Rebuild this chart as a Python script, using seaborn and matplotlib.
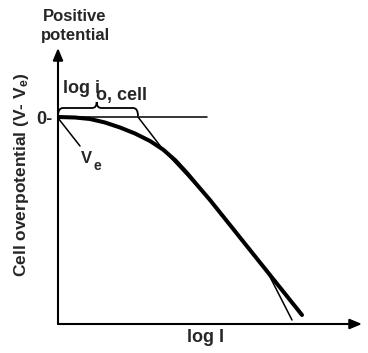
import matplotlib
matplotlib.use("Agg")
import matplotlib.pyplot as plt
from matplotlib.path import Path
from matplotlib.patches import PathPatch
import seaborn as sns
import pandas as pd

# Cell polarisation curve (log current vs overpotential), arbitrary units
log_current = [0, 1.7, 3.2, 4.7, 6.2, 7.7, 9.2, 10.5, 11.7, 12.9, 14.0, 15.2, 19.2, 24.4]
overpotential = [0, -0.05, -0.2, -0.55, -1.05, -1.65, -2.4, -3.25, -4.3, -5.6,
                 -6.9, -8.3, -13.3, -19.8]

# Tafel asymptote, starting where it crosses the zero-overpotential line
tafel_log_current = [8.0, 10.5, 15.2, 19.2, 21.0, 23.4]
tafel_overpotential = [0, -3.25, -8.3, -13.3, -15.6, -20.3]

# Zero-overpotential reference line
zero_line_x = [0, 14.9]
zero_line_y = [0, 0]

x_label = "log I"
y_label = "Cell overpotential (V- V$_{e}$)"
y_ticks = [0]
y_tick_labels = ["0-"]

sns.set_theme(style="white")
plt.rcParams["font.family"] = ["Liberation Sans", "DejaVu Sans"]
plt.rcParams["font.weight"] = "bold"
plt.rcParams["mathtext.fontset"] = "custom"
plt.rcParams["mathtext.rm"] = "Liberation Sans:bold"
plt.rcParams["mathtext.it"] = "Liberation Sans:bold"
plt.rcParams["mathtext.bf"] = "Liberation Sans:bold"

W, H = 368, 353
fig = plt.figure(figsize=(W / 100, H / 100), dpi=100)
ax = fig.add_axes([58 / W, (H - 324) / H, (362 - 58) / W, (324 - 48) / H])

curve = pd.DataFrame({"log_i": log_current, "eta": overpotential})
tafel = pd.DataFrame({"log_i": tafel_log_current, "eta": tafel_overpotential})
zero = pd.DataFrame({"log_i": zero_line_x, "eta": zero_line_y})

sns.lineplot(data=zero, x="log_i", y="eta", ax=ax, color="black", lw=1.1,
             sort=False, estimator=None)
sns.lineplot(data=tafel, x="log_i", y="eta", ax=ax, color="black", lw=1.1,
             sort=False, estimator=None)
sns.lineplot(data=curve, x="log_i", y="eta", ax=ax, color="black", lw=2.9,
             sort=False, estimator=None, solid_capstyle="round",
             solid_joinstyle="round")

ax.set_xlim(0, 30.4)
ax.set_ylim(-20.7, 6.9)

# Axes drawn as arrows
for s in ax.spines.values():
    s.set_visible(False)
arrow = dict(arrowstyle="-|>,head_length=0.6,head_width=0.25", lw=1.5,
             color="black", shrinkA=0, shrinkB=0, mutation_scale=12)
ax.annotate("", xy=(0, 1), xytext=(0, 0), xycoords="axes fraction",
            textcoords="axes fraction", arrowprops=arrow)
ax.annotate("", xy=(1, 0), xytext=(0, 0), xycoords="axes fraction",
            textcoords="axes fraction", arrowprops=arrow)

ax.set_xticks([])
ax.set_yticks(y_ticks, y_tick_labels)
ax.tick_params(axis="y", length=0, pad=4, labelsize=13)

ax.set_xlabel(x_label, fontsize=13, fontweight="bold")
ax.xaxis.set_label_coords(0.484, -0.018)
ax.set_ylabel(y_label, fontsize=12.5, fontweight="bold")
ax.yaxis.set_label_coords(-0.088, 0.54)

# Brace spanning log i_o,cell
verts = [(0, 0.1), (0, 0.9), (0.5, 0.9), (3.4, 0.9), (3.87, 0.9), (3.87, 1.5),
         (3.87, 0.9), (4.34, 0.9), (7.5, 0.9), (8.0, 0.9), (8.0, 0.1)]
codes = [Path.MOVETO, Path.CURVE3, Path.CURVE3, Path.LINETO, Path.CURVE3, Path.CURVE3,
         Path.CURVE3, Path.CURVE3, Path.LINETO, Path.CURVE3, Path.CURVE3]
ax.add_patch(PathPatch(Path(verts, codes), fill=False, lw=1.3, color="black",
                       clip_on=False))

ax.text(0.5, 2.4, "log i", fontsize=13, fontweight="bold", ha="left",
        va="baseline", clip_on=False)
ax.text(3.8, 1.7, "o, cell", fontsize=13, fontweight="bold", ha="left",
        va="baseline", clip_on=False)

# Equilibrium voltage marker
ax.plot([0, 2.2], [-0.1, -2.9], color="black", lw=1.1)
ax.text(2.3, -4.6, "V", fontsize=12, fontweight="bold", ha="left", va="baseline")
ax.text(3.5, -5.3, "e", fontsize=10, fontweight="bold", ha="left", va="baseline")

ax.text(1.7, 9.1, "Positive\npotential", fontsize=12, fontweight="bold",
        ha="center", va="center", linespacing=1.35, clip_on=False)

fig.savefig("out.png", dpi=100)
